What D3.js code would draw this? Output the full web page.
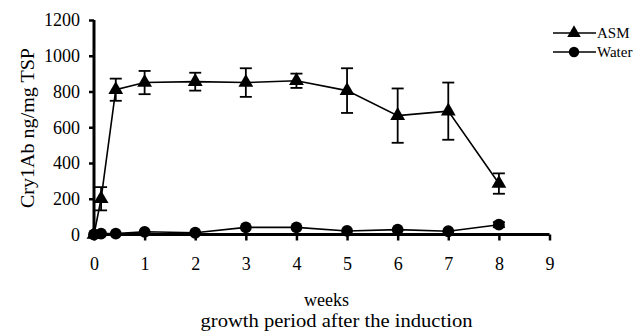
<!DOCTYPE html>
<html>
<head>
<meta charset="utf-8">
<script src="https://cdn.jsdelivr.net/npm/d3@7"></script>
<style>
  body { margin: 0; background: #fff; }
  svg text { font-family: "Liberation Serif", "DejaVu Serif", serif; fill: #000; }
</style>
</head>
<body>
<script>
var width = 644, height = 334
var serif = "Liberation Serif, DejaVu Serif, serif"

// weeks after induction
var weeks = [0, 0.14, 0.43, 1, 2, 3, 4, 5, 6, 7, 8]
var asm = [0, 200, 810, 850, 855, 850, 860, 805, 665, 690, 285]
var asmErr = [0, 65, 62, 65, 50, 80, 40, 125, 152, 160, 57]
var water = [0, 5, 5, 15, 10, 40, 40, 20, 27, 18, 55]
var waterErr = [0, 0, 0, 0, 0, 0, 0, 0, 0, 0, 14]
var xTicks = [0, 1, 2, 3, 4, 5, 6, 7, 8, 9]
var yTicks = [0, 200, 400, 600, 800, 1000, 1200]

var x = d3.scaleLinear().domain([0, 9]).range([94, 549.5])
var y = d3.scaleLinear().domain([0, 1200]).range([234.5, 20])

var svg = d3.select("body")
    .append("svg")
    .attr("width", width)
    .attr("height", height)

var xAxis = d3.axisBottom(x).tickValues(xTicks).tickSize(6).tickPadding(17).tickFormat(d3.format("d"))
var yAxis = d3.axisLeft(y).tickValues(yTicks).tickSize(5).tickPadding(9).tickFormat(d3.format("d"))

var gx = svg.append("g")
    .attr("transform", "translate(0," + y(0) + ")")
    .call(xAxis)
gx.select(".domain").attr("d", "M" + (x(0) - 3) + ",0H" + x(9)).attr("stroke-width", 3)

var gy = svg.append("g")
    .attr("transform", "translate(" + x(0) + ",0)")
    .call(yAxis)
gy.select(".domain").attr("d", "M0," + (y(0) + 1.5) + "V" + y(1200)).attr("stroke-width", 3)

svg.selectAll(".tick line").attr("stroke-width", 2.5)
svg.selectAll(".tick text")
    .style("font-family", serif)
    .style("font-size", "18px")
gx.selectAll(".tick text").attr("dy", "0.71em")

// series
var line = d3.line()
    .x(function (d) { return x(d[0]) })
    .y(function (d) { return y(d[1]) })

function addSeries(vals, errs, shape) {
    var pts = weeks.map(function (w, i) { return [w, vals[i], errs[i]] })
    svg.append("path")
        .attr("d", line(pts))
        .attr("fill", "none")
        .attr("stroke", "#000")
        .attr("stroke-width", 1.6)

    var eb = svg.append("g").attr("stroke", "#000").attr("stroke-width", 1.8)
    pts.filter(function (d) { return d[2] > 0 }).forEach(function (d) {
        var cx = x(d[0])
        eb.append("line").attr("x1", cx).attr("x2", cx)
            .attr("y1", y(d[1] - d[2])).attr("y2", y(d[1] + d[2]))
        eb.append("line").attr("x1", cx - 6).attr("x2", cx + 6)
            .attr("y1", y(d[1] + d[2])).attr("y2", y(d[1] + d[2]))
        eb.append("line").attr("x1", cx - 6).attr("x2", cx + 6)
            .attr("y1", y(d[1] - d[2])).attr("y2", y(d[1] - d[2]))
    })

    svg.append("g").selectAll("path")
        .data(pts)
        .enter().append("path")
        .attr("d", d3.symbol().type(shape).size(shape === d3.symbolTriangle ? 95 : 110))
        .attr("transform", function (d) { return "translate(" + x(d[0]) + "," + y(d[1]) + ")" })
        .attr("fill", "#000")
}

addSeries(asm, asmErr, d3.symbolTriangle)
addSeries(water, waterErr, d3.symbolCircle)

// legend
var legend = [["ASM", d3.symbolTriangle, 33], ["Water", d3.symbolCircle, 52]]
legend.forEach(function (l) {
    var g = svg.append("g").attr("transform", "translate(0," + l[2] + ")")
    g.append("line").attr("x1", 553).attr("x2", 596).attr("stroke", "#000").attr("stroke-width", 1.6)
    g.append("path")
        .attr("d", d3.symbol().type(l[1]).size(l[1] === d3.symbolTriangle ? 80 : 85))
        .attr("transform", "translate(574,0)")
    g.append("text").attr("x", 597).attr("y", 0).attr("dy", "0.35em")
        .attr("font-family", serif)
        .attr("font-size", 15).text(l[0])
})

// axis titles
svg.append("text")
    .attr("transform", "translate(27,128) rotate(-90)")
    .attr("text-anchor", "middle")
    .attr("dy", "0.35em")
    .attr("font-family", serif)
    .attr("font-size", 19)
    .attr("textLength", 160)
    .attr("lengthAdjust", "spacingAndGlyphs")
    .text("Cry1Ab ng/mg TSP")

svg.append("text")
    .attr("x", 326.5).attr("y", 306)
    .attr("text-anchor", "middle")
    .attr("font-family", serif)
    .attr("font-size", 18)
    .text("weeks")

svg.append("text")
    .attr("x", 336.5).attr("y", 327)
    .attr("text-anchor", "middle")
    .attr("font-family", serif)
    .attr("font-size", 18)
    .attr("textLength", 272)
    .attr("lengthAdjust", "spacingAndGlyphs")
    .text("growth period after the induction")
</script>
</body>
</html>
